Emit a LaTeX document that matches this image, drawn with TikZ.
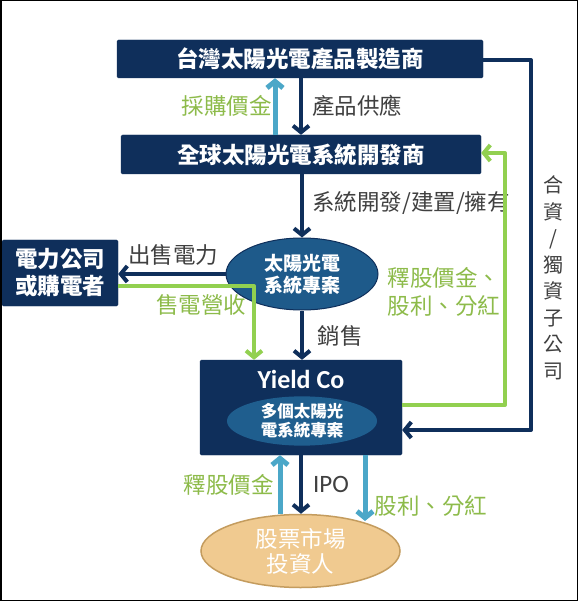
\documentclass[tikz,border=0pt]{standalone}
\usepackage{fontspec}
\setmainfont{Noto Sans CJK TC}
\newfontfamily\lat{Carlito}
\usetikzlibrary{arrows.meta,shapes.geometric}
\definecolor{navy}{HTML}{0F2F5B}
\definecolor{projblue}{HTML}{1E5A8A}
\definecolor{innerblue}{HTML}{1F5E8E}
\definecolor{cyanc}{HTML}{4BA7C8}
\definecolor{greenline}{HTML}{92D050}
\definecolor{greentext}{HTML}{8DBB4A}
\definecolor{graytext}{HTML}{404040}
\definecolor{tanfill}{HTML}{F0CA90}
\definecolor{tanborder}{HTML}{C49C5E}
\tikzset{
  navybox/.style={draw=navy, fill=navy, text=white, rounded corners=1.5pt, inner sep=0pt, font=\bfseries\fontsize{22.5}{26}\selectfont},
  dk/.style={draw=navy, line width=4pt, line join=round, -{Straight Barb[length=6.5pt,width=16pt]}},
  gr/.style={draw=greenline, line width=4pt, line join=round, -{Straight Barb[length=6.5pt,width=16pt]}},
  cy/.style={draw=cyanc, line width=5pt, -{Straight Barb[length=6.5pt,width=16pt]}},
  glabel/.style={text=greentext, inner sep=0pt, font=\fontsize{22.5}{28}\selectfont},
  klabel/.style={text=graytext, inner sep=0pt, font=\fontsize{22.5}{28}\selectfont},
}
\begin{document}
\begin{tikzpicture}[x=1pt,y=-1pt]
\useasboundingbox (0,0) rectangle (578,601);
\fill[white] (0,0) rectangle (578,601);

% nodes
\node[navybox, minimum width=366pt, minimum height=38pt] (mfr) at (300,59) {台灣太陽光電產品製造商};
\node[navybox, minimum width=360pt, minimum height=39pt] (dev) at (301,154.5) {全球太陽光電系統開發商};
\node[ellipse, draw=navy, line width=1pt, fill=projblue, text=white, minimum width=152pt, minimum height=72pt, inner sep=0pt, align=center, font=\bfseries\fontsize{19}{22}\selectfont] (proj) at (302,274) {太陽光電\\系統專案};
\node[navybox, minimum width=116pt, minimum height=66pt, align=center, font=\bfseries\fontsize{22.5}{27}\selectfont] (util) at (60,273) {電力公司\\或購電者};
\node[navybox, minimum width=202pt, minimum height=95pt] (yc) at (301,407.5) {};
\node[text=white, inner sep=0pt, font=\lat\bfseries\fontsize{26}{30}\selectfont] (yct) at (301,379) {Yield Co};
\node[ellipse, fill=innerblue, text=white, minimum width=150pt, minimum height=34pt, inner sep=0pt, align=center, font=\bfseries\fontsize{16.5}{19}\selectfont] (multi) at (302,421) {多個太陽光\\電系統專案};
\node[ellipse, draw=tanborder, line width=1.5pt, fill=tanfill, text=white, minimum width=199pt, minimum height=73pt, inner sep=0pt, align=center, font=\fontsize{22.5}{25}\selectfont] (inv) at (300.5,551) {股票市場\\投資人};

% labels
\node[glabel, anchor=east] (l1) at (272,106) {採購價金};
\node[klabel, anchor=west] (l2) at (312,106) {產品供應};
\node[klabel, anchor=west] (l3) at (312,203) {系統開發/建置/擁有};
\node[klabel] (l4) at (173,255) {出售電力};
\node[glabel] (l5) at (201,305) {售電營收};
\node[klabel] (l6) at (340,336) {銷售};
\node[glabel, align=left] (l7) at (444,292) {釋股價金、\\股利、分紅};
\node[text=graytext, inner sep=0pt, align=center, font=\fontsize{20}{26.5}\selectfont] (l8) at (553,278) {合\\資\\/\\獨\\資\\子\\公\\司};
\node[text=graytext, inner sep=0pt, font=\lat\fontsize{25}{28}\selectfont] (l9) at (331,484) {IPO};
\node[glabel, anchor=east] (l10) at (274,485) {釋股價金};
\node[glabel] (l11) at (431,506) {股利、分紅};

% coordinates
\coordinate (r1) at (531,60);
\coordinate (r2) at (531,430);
\coordinate (g1) at (505,405);
\coordinate (g2) at (505,153);
\coordinate (gl) at (254,286);
\coordinate (dvend) at (365,521);

% connectors
\draw[dk] (mfr.south -| 301,0) -- (dev.north -| 301,0);
\draw[cy] (dev.north -| 275,0) -- (mfr.south -| 275,0);
\draw[dk] (dev.south -| proj.north) -- (proj.north);
\draw[dk] (proj.west) -- (util.east |- proj.west);
\draw[gr] (util.east |- gl) -- (gl) -- (yc.north -| gl);
\draw[dk] (proj.south) -- (yc.north -| proj.south);
\draw[dk] (mfr.east |- r1) -- (r1) -- (r2) -- (yc.east |- r2);
\draw[gr] (yc.east |- g1) -- (g1) -- (g2) -- (dev.east |- g2);
\draw[cy] (inv.north -| 280,0) -- (yc.south -| 280,0);
\draw[dk] (yc.south -| 301,0) -- (inv.north -| 301,0);
\draw[cy] (yc.south -| dvend) -- (dvend);

% frame
\draw[black, line width=1.5pt] (0.75,0.75) rectangle (577.25,600.25);
\end{tikzpicture}
\end{document}
